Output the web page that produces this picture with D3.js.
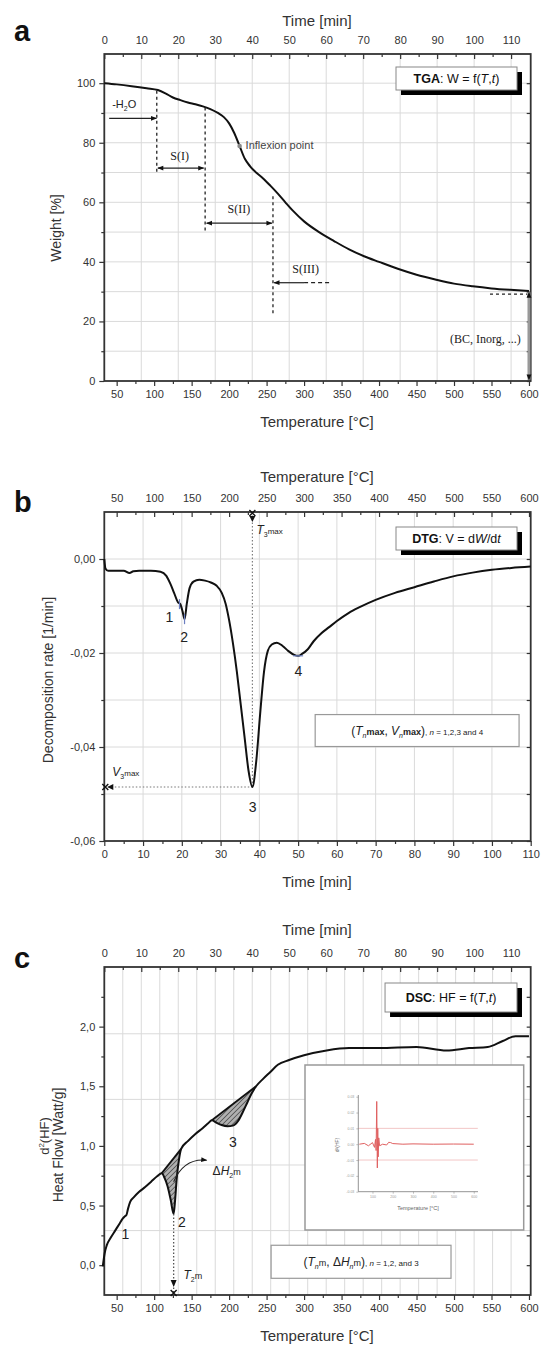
<!DOCTYPE html>
<html>
<head>
<meta charset="utf-8">
<script src="https://cdn.jsdelivr.net/npm/d3@7"></script>
<style>
  body { margin: 0; background: #fff; }
  svg { display: block; font-family: "Liberation Sans", Arial, sans-serif; }
</style>
</head>
<body>
<script>
// ---------- data ----------
// a) TGA : weight [%] vs temperature [°C]
const tgaTemp   = [33.5, 50, 70, 90, 105, 115, 125, 135, 145, 155, 165, 175, 185, 193, 200, 207, 214, 221, 228, 236, 245, 255, 265, 275, 285, 300, 320, 340, 360, 380, 400, 425, 450, 475, 500, 525, 550, 575, 600];
const tgaWeight = [100, 99.6, 99.0, 98.3, 97.7, 96.6, 95.2, 94.3, 93.5, 92.9, 92.2, 91.3, 90.0, 88.6, 86.5, 83.2, 78.9, 74.6, 72.1, 70.0, 68.1, 65.6, 62.9, 60.0, 57.2, 53.6, 50.0, 47.0, 44.2, 41.9, 40.0, 37.7, 35.7, 34.1, 32.7, 31.8, 31.1, 30.6, 30.2];

// b) DTG : decomposition rate [1/min] vs time [min]
const dtgTime = [0, 0.3, 1, 3, 5, 6.5, 7.5, 9, 12, 14.5, 16, 17, 18, 19, 19.6, 20.2, 20.7, 21.3, 22, 23, 24.5, 26, 27.5, 29, 30.3, 31.3, 32.2, 33.2, 34.2, 35.2, 36.2, 37.2, 38.2, 39.2, 40.2, 41.2, 42.2, 43.2, 44.5, 46, 47.5, 49, 50, 51, 52.5, 54, 56, 58, 60, 63, 66, 70, 75, 80, 85, 90, 95, 100, 105, 110];
const dtgRate = [0.0, -0.002, -0.0025, -0.0025, -0.0025, -0.003, -0.0026, -0.0025, -0.0025, -0.0027, -0.0036, -0.0052, -0.0072, -0.0092, -0.0096, -0.0112, -0.0128, -0.0094, -0.0062, -0.0048, -0.0044, -0.0046, -0.005, -0.0057, -0.0072, -0.0095, -0.013, -0.018, -0.024, -0.031, -0.038, -0.045, -0.0485, -0.043, -0.033, -0.024, -0.0195, -0.0182, -0.0178, -0.0185, -0.0196, -0.0204, -0.0206, -0.0202, -0.0192, -0.0175, -0.0158, -0.0145, -0.0132, -0.0115, -0.0102, -0.0087, -0.0072, -0.006, -0.0048, -0.0037, -0.0029, -0.0023, -0.0019, -0.0016];

// c) DSC : heat flow [W/g] vs temperature [°C]
const dscTemp = [31.5, 34, 37, 42, 48, 54, 58, 61, 63, 65, 68, 73, 80, 88, 96, 104, 110, 114, 118, 122, 126, 128, 130, 133, 136, 145, 155, 165, 172, 177, 183, 190, 198, 205, 212, 218, 224, 230, 236, 245, 255, 265, 280, 300, 330, 360, 400, 450, 490, 520, 545, 565, 582, 600];
const dscHeat = [-0.01, 0.10, 0.17, 0.23, 0.29, 0.35, 0.39, 0.41, 0.42, 0.47, 0.53, 0.57, 0.615, 0.655, 0.70, 0.745, 0.77, 0.73, 0.66, 0.55, 0.43, 0.55, 0.72, 0.88, 0.975, 1.04, 1.10, 1.15, 1.19, 1.215, 1.195, 1.175, 1.165, 1.17, 1.21, 1.28, 1.36, 1.44, 1.50, 1.56, 1.62, 1.68, 1.72, 1.76, 1.80, 1.82, 1.82, 1.83, 1.80, 1.82, 1.83, 1.88, 1.92, 1.92];
// hatched peaks 2 and 3 (start / end temperature of the baseline)
const peakRanges = [[110, 136], [177, 236]];

// inset of c : d2(HF)
const insTemp = [35, 60, 80, 100, 110, 115, 118, 121, 124, 126, 128, 131, 135, 150, 170, 180, 190, 200, 250, 300, 400, 500, 600];
const insVal  = [0, 0.0005, -0.001, 0.001, -0.002, 0.003, -0.004, 0.027, -0.015, 0.01, -0.008, 0.004, -0.001, 0.0, -0.0005, 0.0012, 0.001, 0.0004, 0, 0.0002, 0, 0.0001, 0];

// tick labels
const timeLabels   = [0, 10, 20, 30, 40, 50, 60, 70, 80, 90, 100, 110];
const timeMinor    = [5, 15, 25, 35, 45, 55, 65, 75, 85, 95, 105];
const tempLabels   = [50, 100, 150, 200, 250, 300, 350, 400, 450, 500, 550, 600];
const tempMinor    = [75, 125, 175, 225, 275, 325, 375, 425, 475, 525, 575];
const weightLabels = [0, 20, 40, 60, 80, 100];
const weightMinor  = [10, 30, 50, 70, 90];
const rateLabels   = [0, -0.02, -0.04, -0.06];
const rateMinor    = [-0.01, -0.03, -0.05];
const heatLabels   = [0, 0.5, 1.0, 1.5, 2.0];
const heatMinor    = [0.25, 0.75, 1.25, 1.75, 2.25];
const dscGridLevels = [0.29, 0.84, 1.39, 1.94];
const insXLabels   = [100, 200, 300, 400, 500, 600];
const insYLabels   = [-0.03, -0.02, -0.01, 0, 0.01, 0.02, 0.03];

// ---------- layout ----------
const X0 = 104.3, X1 = 530.7;
const tempDomain = [33.5, 602.3];
const FONT = "'Liberation Sans', Arial, sans-serif";
const SERIF = "'Liberation Serif', 'Times New Roman', serif";

const svg = d3.select("body").append("svg").attr("width", 542).attr("height", 1345);
const defs = svg.append("defs");

defs.append("marker").attr("id", "arr").attr("viewBox", "0 0 10 10")
  .attr("refX", 9).attr("refY", 5).attr("markerWidth", 7).attr("markerHeight", 6)
  .attr("markerUnits", "userSpaceOnUse").attr("orient", "auto-start-reverse")
  .append("path").attr("d", "M0,1 L10,5 L0,9 z").attr("fill", "#111");

const hatch = defs.append("pattern").attr("id", "hatch").attr("patternUnits", "userSpaceOnUse")
  .attr("width", 3.5).attr("height", 3.5).attr("patternTransform", "rotate(45)");
hatch.append("rect").attr("width", 3.5).attr("height", 3.5).attr("fill", "#b0b0b0");
hatch.append("line").attr("x1", 0).attr("y1", 0).attr("x2", 0).attr("y2", 3.5)
  .attr("stroke", "#333").attr("stroke-width", 1.2);

function styleAxis(a, size) {
  a.attr("font-family", FONT).attr("font-size", size || 11);
  a.select(".domain").remove();
  a.selectAll(".tick line").attr("stroke", "#333").attr("stroke-width", 1.2);
  a.selectAll(".tick text").attr("fill", "#333");
  return a;
}
function addAxis(g, axis, ty, tx) {
  return styleAxis(g.append("g").attr("transform", `translate(${tx || 0},${ty})`).call(axis));
}

// text made of styled pieces (bold / italic / subscript / superscript)
function rich(sel, parts) {
  let shift = 0;
  parts.forEach(p => {
    const s = sel.append("tspan").text(p.t);
    const want = p.sub ? 3 : (p.sup ? -5 : 0);
    if (want !== shift) { s.attr("dy", want - shift); shift = want; }
    if (p.b) s.attr("font-weight", "bold");
    if (p.i) s.attr("font-style", "italic");
    if (p.s) s.attr("font-size", p.s);
  });
  return sel;
}

function txt(g, x, y, s, o) {
  o = o || {};
  return g.append("text").attr("x", x).attr("y", y).text(s)
    .attr("font-size", o.size || 11).attr("fill", o.fill || "#222")
    .attr("text-anchor", o.anchor || "start")
    .attr("font-family", o.serif ? SERIF : FONT)
    .attr("dominant-baseline", o.mid ? "central" : null);
}

function shadowBox(g, x0, y0, x1, y1, parts) {
  g.append("rect").attr("x", x0 + 5).attr("y", y0 + 5).attr("width", x1 - x0).attr("height", y1 - y0).attr("fill", "#000");
  g.append("rect").attr("x", x0).attr("y", y0).attr("width", x1 - x0).attr("height", y1 - y0)
    .attr("fill", "#fff").attr("stroke", "#888").attr("stroke-width", 1);
  rich(g.append("text").attr("x", (x0 + x1) / 2).attr("y", (y0 + y1) / 2 + 4.5)
    .attr("text-anchor", "middle").attr("font-size", 12.5).attr("fill", "#111"), parts);
}

function plainBox(g, x0, y0, x1, y1, parts) {
  g.append("rect").attr("x", x0).attr("y", y0).attr("width", x1 - x0).attr("height", y1 - y0)
    .attr("fill", "#fff").attr("stroke", "#999").attr("stroke-width", 1.2);
  rich(g.append("text").attr("x", (x0 + x1) / 2).attr("y", (y0 + y1) / 2 + 4.5)
    .attr("text-anchor", "middle").attr("font-size", 12).attr("fill", "#222"), parts);
}

function drawPanel(p) {
  const g = svg.append("g");
  g.selectAll(null).data(p.vGrid).join("line")
    .attr("x1", d => p.vGridScale(d)).attr("x2", d => p.vGridScale(d))
    .attr("y1", p.top).attr("y2", p.bottom).attr("stroke", "#dadada").attr("stroke-width", 1);
  g.selectAll(null).data(p.hGrid).join("line")
    .attr("x1", X0).attr("x2", X1).attr("y1", d => p.y(d)).attr("y2", d => p.y(d))
    .attr("stroke", "#dadada").attr("stroke-width", 1);

  addAxis(g, d3.axisBottom(p.xb).tickValues(p.bTicks).tickSizeInner(5).tickSizeOuter(0).tickPadding(4), p.bottom);
  addAxis(g, d3.axisBottom(p.xb).tickValues(p.bMinor).tickSizeInner(3).tickSizeOuter(0).tickFormat(""), p.bottom);
  addAxis(g, d3.axisTop(p.xt).tickValues(p.tTicks).tickSizeInner(-5).tickSizeOuter(0).tickPadding(10), p.top);
  addAxis(g, d3.axisTop(p.xt).tickValues(p.tMinor).tickSizeInner(-3).tickSizeOuter(0).tickFormat(""), p.top);
  addAxis(g, d3.axisLeft(p.y).tickValues(p.yTicks).tickSizeInner(5).tickSizeOuter(0).tickPadding(4).tickFormat(p.yFmt), 0, X0);
  addAxis(g, d3.axisLeft(p.y).tickValues(p.yMinor).tickSizeInner(3).tickSizeOuter(0).tickFormat(""), 0, X0);
  addAxis(g, d3.axisRight(p.y).tickValues(p.yTicks.concat(p.yMinor)).tickSizeInner(-4).tickSizeOuter(0).tickFormat(""), 0, X1);

  g.append("rect").attr("x", X0).attr("y", p.top).attr("width", X1 - X0).attr("height", p.bottom - p.top)
    .attr("fill", "none").attr("stroke", "#333").attr("stroke-width", 1.8);

  txt(g, 317, p.topTitleY, p.topTitle, { size: 15, anchor: "middle", fill: "#333" });
  txt(g, 317, p.bottomTitleY, p.bottomTitle, { size: 15, anchor: "middle", fill: "#333" });
  g.append("text").attr("transform", `translate(${p.leftX},${p.leftY}) rotate(-90)`)
    .attr("text-anchor", "middle").attr("font-size", 14).attr("fill", "#333").text(p.leftTitle);
  txt(g, 14, p.letterY, p.letter, { size: 29, fill: "#111" }).attr("font-weight", "bold");
  return g;
}

function dashed(g, x1, y1, x2, y2, dash) {
  return g.append("line").attr("x1", x1).attr("y1", y1).attr("x2", x2).attr("y2", y2)
    .attr("stroke", "#222").attr("stroke-width", 1.3).attr("stroke-dasharray", dash || "3,3");
}
function arrow(g, x1, y1, x2, y2, both) {
  const l = g.append("line").attr("x1", x1).attr("y1", y1).attr("x2", x2).attr("y2", y2)
    .attr("stroke", "#222").attr("stroke-width", 1.2).attr("marker-end", "url(#arr)");
  if (both) l.attr("marker-start", "url(#arr)");
  return l;
}
function cross(g, x, y) {
  g.append("path").attr("d", `M${x - 3},${y - 3}L${x + 3},${y + 3}M${x + 3},${y - 3}L${x - 3},${y + 3}`)
    .attr("stroke", "#111").attr("stroke-width", 1.4);
}

// ================= panel a : TGA =================
const xTa = d3.scaleLinear().domain(tempDomain).range([X0, X1]);
const xta = d3.scaleLinear().domain([0, 115.3]).range([X0, X1]);
const ya  = d3.scaleLinear().domain([0, 109.8]).range([381, 54]);

const ga = drawPanel({
  top: 54, bottom: 381, y: ya, xb: xTa, xt: xta,
  bTicks: tempLabels, bMinor: tempMinor, tTicks: timeLabels, tMinor: timeMinor,
  yTicks: weightLabels, yMinor: weightMinor, yFmt: d => d,
  vGrid: timeLabels.slice(1), vGridScale: xta, hGrid: [10, 20, 30, 40, 50, 60, 70, 80, 90, 100],
  topTitle: "Time [min]", topTitleY: 26, bottomTitle: "Temperature [°C]", bottomTitleY: 427,
  leftTitle: "Weight [%]", leftX: 61, leftY: 228, letter: "a", letterY: 41
});

const tgaPts = tgaTemp.map((t, i) => ({ x: t, y: tgaWeight[i] }));
ga.append("path").datum(tgaPts)
  .attr("d", d3.line().x(d => xTa(d.x)).y(d => ya(d.y)).curve(d3.curveMonotoneX))
  .attr("fill", "none").attr("stroke", "#111").attr("stroke-width", 2);

// -H2O
rich(txt(ga, xTa(44), ya(91.8), ""), [{ t: "-H" }, { t: "2", sub: 1, s: 7 }, { t: "O" }]);
arrow(ga, xTa(40), ya(88.2), xTa(103), ya(88.2));
dashed(ga, xTa(103.5), ya(97.5), xTa(103.5), ya(69.5));
// S(I)
txt(ga, xTa(134), ya(74.2), "S(I)", { serif: 1, size: 12, anchor: "middle" });
arrow(ga, xTa(105), ya(71.5), xTa(166), ya(71.5), true);
dashed(ga, xTa(168), ya(91.8), xTa(168), ya(49.5));
// S(II)
txt(ga, xTa(213), ya(56.4), "S(II)", { serif: 1, size: 12, anchor: "middle" });
arrow(ga, xTa(170), ya(53), xTa(257), ya(53), true);
dashed(ga, xTa(258.5), ya(62), xTa(258.5), ya(22));
// S(III)
txt(ga, xTa(302), ya(36.4), "S(III)", { serif: 1, size: 12, anchor: "middle" });
arrow(ga, xTa(300), ya(33), xTa(260), ya(33));
dashed(ga, xTa(300), ya(33), xTa(336), ya(33), "4,3");
// inflexion point
ga.append("circle").attr("cx", xTa(214)).attr("cy", ya(78.9)).attr("r", 2.3).attr("fill", "#888");
txt(ga, xTa(222), ya(77.8), "Inflexion point", { size: 11, fill: "#444" });
// residue
dashed(ga, xTa(548), ya(29.2), xTa(598), ya(29.2));
ga.append("line").attr("x1", xTa(600)).attr("x2", xTa(600)).attr("y1", ya(29.8)).attr("y2", ya(0.4))
  .attr("stroke", "#999").attr("stroke-width", 3)
  .attr("marker-start", "url(#arr)").attr("marker-end", "url(#arr)");
txt(ga, xTa(589), ya(12.6), "(BC, Inorg, ...)", { serif: 1, size: 12, anchor: "end" });

shadowBox(ga, 396, 67, 517, 90, [{ t: "TGA", b: 1 }, { t: ": W = f(" }, { t: "T", i: 1 }, { t: "," }, { t: "t", i: 1 }, { t: ")" }]);

// ================= panel b : DTG =================
const xtb = d3.scaleLinear().domain([0, 110]).range([X0, X1]);
const xTb = d3.scaleLinear().domain(tempDomain).range([X0, X1]);
const yb  = d3.scaleLinear().domain([-0.06, 0.01]).range([841, 512]);
const commaFmt = d => d.toFixed(2).replace(".", ",");

const gb = drawPanel({
  top: 512, bottom: 841, y: yb, xb: xtb, xt: xTb,
  bTicks: timeLabels, bMinor: timeMinor, tTicks: tempLabels, tMinor: tempMinor,
  yTicks: rateLabels, yMinor: rateMinor, yFmt: commaFmt,
  vGrid: timeLabels.slice(1, 11), vGridScale: xtb, hGrid: [0, -0.01, -0.02, -0.03, -0.04, -0.05],
  topTitle: "Temperature [°C]", topTitleY: 482, bottomTitle: "Time [min]", bottomTitleY: 887,
  leftTitle: "Decomposition rate [1/min]", leftX: 53, leftY: 680, letter: "b", letterY: 512
});

// T3max / V3max guides
const t3 = 38.2, v3 = -0.0485;
dashed(gb, xtb(t3), 512, xtb(t3), yb(v3), "1.5,2").attr("stroke", "#777").attr("stroke-width", 1.1);
dashed(gb, X0, yb(v3), xtb(t3), yb(v3), "1.5,2").attr("stroke", "#777").attr("stroke-width", 1.1);

const dtgPts = dtgTime.map((t, i) => ({ x: t, y: dtgRate[i] }));
gb.append("path").datum(dtgPts)
  .attr("d", d3.line().x(d => xtb(d.x)).y(d => yb(d.y)).curve(d3.curveMonotoneX))
  .attr("fill", "none").attr("stroke", "#111").attr("stroke-width", 2);

cross(gb, xtb(t3), 513);
gb.append("path").attr("d", `M${xtb(t3) - 3},516L${xtb(t3) + 3},516L${xtb(t3)},522z`).attr("fill", "#111");
cross(gb, X0 + 1, yb(v3));
gb.append("path").attr("d", `M${X0 + 9},${yb(v3) - 3}L${X0 + 9},${yb(v3) + 3}L${X0 + 3},${yb(v3)}z`).attr("fill", "#111");
rich(txt(gb, xtb(t3) + 4, 534, "", { size: 12 }), [{ t: "T", i: 1 }, { t: "3", sub: 1, s: 7 }, { t: "max", s: 8 }]);
rich(txt(gb, X0 + 8, 776, "", { size: 12 }), [{ t: "V", i: 1 }, { t: "3", sub: 1, s: 7 }, { t: "max", s: 8 }]);

// blue tick marks at the extrema
const blueMarks = [[19.4, -0.0096, "v"], [20.7, -0.0128, "v"], [50, -0.0206, "h"]];
blueMarks.forEach(m => {
  const x = xtb(m[0]), y = yb(m[1]);
  gb.append("line").attr("x1", m[2] === "h" ? x - 5 : x).attr("x2", m[2] === "h" ? x + 5 : x)
    .attr("y1", m[2] === "h" ? y : y - 5).attr("y2", m[2] === "h" ? y : y + 5)
    .attr("stroke", "#6c7fc0").attr("stroke-width", 1.2);
});
txt(gb, xtb(16.8), yb(-0.0124), "1", { size: 14, anchor: "middle", mid: 1 });
txt(gb, xtb(20.6), yb(-0.0165), "2", { size: 14, anchor: "middle", mid: 1 });
txt(gb, xtb(38.3), yb(-0.0528), "3", { size: 14, anchor: "middle", mid: 1 });
txt(gb, xtb(50.1), yb(-0.0238), "4", { size: 14, anchor: "middle", mid: 1 });

shadowBox(gb, 396, 527, 517, 550, [{ t: "DTG", b: 1 }, { t: ": V = d" }, { t: "W", i: 1 }, { t: "/d" }, { t: "t", i: 1 }]);
plainBox(gb, xtb(54.4), yb(-0.0331), xtb(107), yb(-0.0399), [
  { t: "(" }, { t: "T", i: 1 }, { t: "n", i: 1, sub: 1, s: 7 }, { t: "max", b: 1, s: 9 }, { t: ", " },
  { t: "V", i: 1 }, { t: "n", i: 1, sub: 1, s: 7 }, { t: "max", b: 1, s: 9 }, { t: ")" },
  { t: ", ", s: 8 }, { t: "n", i: 1, s: 8 }, { t: " = 1,2,3 and 4", s: 8 }
]);

// ================= panel c : DSC =================
const xTc = d3.scaleLinear().domain(tempDomain).range([X0, X1]);
const xtc = d3.scaleLinear().domain([0, 115.3]).range([X0, X1]);
const yc  = d3.scaleLinear().domain([-0.25, 2.5]).range([1295, 967]);

const gc = drawPanel({
  top: 967, bottom: 1295, y: yc, xb: xTc, xt: xtc,
  bTicks: tempLabels, bMinor: tempMinor, tTicks: timeLabels, tMinor: timeMinor,
  yTicks: heatLabels, yMinor: heatMinor, yFmt: d => d.toFixed(1).replace(".", ","),
  vGrid: timeLabels.slice(1).concat(timeMinor), vGridScale: xtc, hGrid: dscGridLevels,
  topTitle: "Time [min]", topTitleY: 935, bottomTitle: "Temperature [°C]", bottomTitleY: 1341,
  leftTitle: "Heat Flow [Watt/g]", leftX: 63, leftY: 1145, letter: "c", letterY: 968
});
rich(gc.append("text").attr("transform", "translate(49,1136) rotate(-90)").attr("text-anchor", "middle")
  .attr("font-size", 13).attr("fill", "#333"), [{ t: "d" }, { t: "2", s: 8, sup: 1 }, { t: "(HF)" }]);

const dscPts = dscTemp.map((t, i) => ({ x: t, y: dscHeat[i] }));
// hatched peak areas between the straight baseline and the curve
peakRanges.forEach(r => {
  const a = dscPts.find(d => d.x === r[0]), b = dscPts.find(d => d.x === r[1]);
  const seg = dscPts.filter(d => d.x >= r[0] && d.x <= r[1]);
  const base = x => a.y + (b.y - a.y) * (x - a.x) / (b.x - a.x);
  gc.append("path").datum(seg)
    .attr("d", d3.area().x(d => xTc(d.x)).y0(d => yc(base(d.x))).y1(d => yc(d.y)).curve(d3.curveMonotoneX))
    .attr("fill", "url(#hatch)");
  gc.append("line").attr("x1", xTc(a.x)).attr("y1", yc(a.y)).attr("x2", xTc(b.x)).attr("y2", yc(b.y))
    .attr("stroke", "#111").attr("stroke-width", 1.8);
});
gc.append("path").datum(dscPts)
  .attr("d", d3.line().x(d => xTc(d.x)).y(d => yc(d.y)).curve(d3.curveMonotoneX))
  .attr("fill", "none").attr("stroke", "#111").attr("stroke-width", 2);

// T2m guide
dashed(gc, xTc(126), yc(0.43), xTc(126), 1293, "1.5,2").attr("stroke", "#555");
gc.append("path").attr("d", `M${xTc(126) - 3},1280L${xTc(126) + 3},1280L${xTc(126)},1287z`).attr("fill", "#111");
cross(gc, xTc(126), 1293);
rich(txt(gc, xTc(139), yc(-0.12), "", { size: 12 }), [{ t: "T", i: 1 }, { t: "2", sub: 1, s: 7 }, { t: "m", s: 9 }]);
// dH2m curved arrow
gc.append("path").attr("d", `M${xTc(126)},${yc(0.7)} Q${xTc(140)},${yc(0.9)} ${xTc(170)},${yc(0.88)}`)
  .attr("fill", "none").attr("stroke", "#222").attr("stroke-width", 1.1).attr("marker-end", "url(#arr)");
rich(txt(gc, xTc(178), yc(0.76), "", { size: 12 }), [{ t: "Δ" }, { t: "H", i: 1 }, { t: "2", sub: 1, s: 7 }, { t: "m", s: 9 }]);

txt(gc, xTc(61.5), yc(0.265), "1", { size: 14, anchor: "middle", mid: 1 });
txt(gc, xTc(137), yc(0.36), "2", { size: 14, anchor: "middle", mid: 1 });
txt(gc, xTc(205), yc(1.03), "3", { size: 14, anchor: "middle", mid: 1 });

shadowBox(gc, xTc(408), 983, xTc(584), 1012, [{ t: "DSC", b: 1 }, { t: ": HF = f(" }, { t: "T", i: 1 }, { t: "," }, { t: "t", i: 1 }, { t: ")" }]);
plainBox(gc, xTc(256), yc(0.167), xTc(496), yc(-0.11), [
  { t: "(" }, { t: "T", i: 1 }, { t: "n", i: 1, sub: 1, s: 7 }, { t: "m", s: 9 }, { t: ", Δ" },
  { t: "H", i: 1 }, { t: "n", i: 1, sub: 1, s: 7 }, { t: "m", s: 9 }, { t: ")" },
  { t: ", ", s: 8 }, { t: "n", i: 1, s: 8 }, { t: " = 1,2, and 3", s: 8 }
]);

// inset : d2(HF) vs temperature
gc.append("rect").attr("x", 305).attr("y", 1065).attr("width", 218.7).attr("height", 165)
  .attr("fill", "#fff").attr("stroke", "#999").attr("stroke-width", 1.5);
const insX = d3.scaleLinear().domain([30, 620]).range([358.3, 477.8]);
const insY = d3.scaleLinear().domain([-0.03, 0.03]).range([1191.7, 1096.7]);
gc.selectAll(null).data([0.01, -0.01]).join("line")
  .attr("x1", 358.3).attr("x2", 477.8).attr("y1", d => insY(d)).attr("y2", d => insY(d))
  .attr("stroke", "#f0b8b8").attr("stroke-width", 0.8);
const ia = addAxis(gc, d3.axisLeft(insY).tickValues(insYLabels).tickSizeInner(2).tickSizeOuter(0).tickPadding(2).tickFormat(d => d.toFixed(2)), 0, 358.3);
styleAxis(ia, 3.5).selectAll(".tick text").attr("fill", "#999");
ia.selectAll(".tick line").attr("stroke", "#999").attr("stroke-width", 0.6);
const ib = addAxis(gc, d3.axisBottom(insX).tickValues(insXLabels).tickSizeInner(2).tickSizeOuter(0).tickPadding(2), 1191.7);
styleAxis(ib, 3.5).selectAll(".tick text").attr("fill", "#999");
ib.selectAll(".tick line").attr("stroke", "#999").attr("stroke-width", 0.6);
gc.append("line").attr("x1", 358.3).attr("x2", 358.3).attr("y1", 1095).attr("y2", 1191.7).attr("stroke", "#777").attr("stroke-width", 0.8);
gc.append("line").attr("x1", 358.3).attr("x2", 478).attr("y1", 1191.7).attr("y2", 1191.7).attr("stroke", "#777").attr("stroke-width", 0.8);
const insPts = insTemp.map((t, i) => ({ x: t, y: insVal[i] }));
gc.append("path").datum(insPts)
  .attr("d", d3.line().x(d => insX(d.x)).y(d => insY(d.y)))
  .attr("fill", "none").attr("stroke", "#e06060").attr("stroke-width", 1);
gc.append("text").attr("transform", "translate(339,1145) rotate(-90)").attr("text-anchor", "middle")
  .attr("font-size", 5).attr("fill", "#666").text("d²(HF)");
txt(gc, 418, 1210, "Temperature [°C]", { size: 5.5, anchor: "middle", fill: "#666" });
</script>
</body>
</html>
